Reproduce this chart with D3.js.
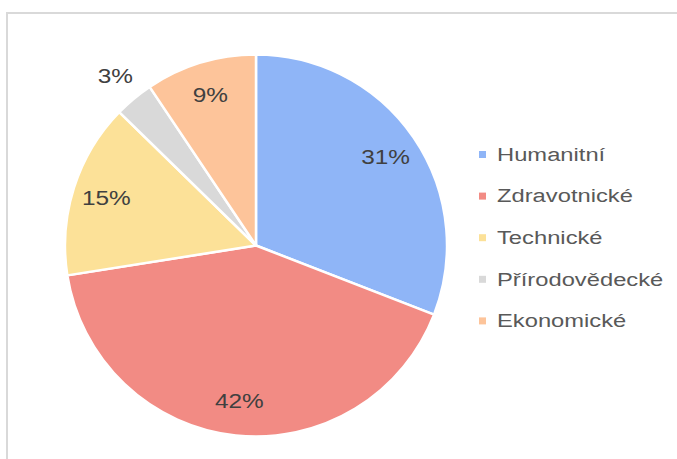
<!DOCTYPE html>
<html>
<head>
<meta charset="utf-8">
<script src="https://cdn.jsdelivr.net/npm/d3@7"></script>
<style>
body { margin: 0; background: #fff; }
svg { display: block; font-family: "Liberation Sans", Arial, sans-serif; }
</style>
</head>
<body>
<svg width="677" height="459"></svg>
<script>
var categories = ["Humanitní", "Zdravotnické", "Technické", "Přírodovědecké", "Ekonomické"];
var values = [30.9, 41.6, 14.8, 3.3, 9.4];
var colors = ["#8fb5f7", "#f28b84", "#fce198", "#d9d9d9", "#fdc49a"];

var width = 677, height = 459;
var cx = 256, cy = 245.5, radius = 191;

var svg = d3.select("svg");

// chart frame (runs off the right and bottom edge)
svg.append("rect")
  .attr("x", 7).attr("y", 13)
  .attr("width", 720).attr("height", 500)
  .style("fill", "none")
  .style("stroke", "#d9d9d9")
  .style("stroke-width", 2);

var data = categories.map(function(c, i){ return {name: c, value: values[i], color: colors[i]}; });
var total = d3.sum(values);

var pie = d3.pie().sort(null).value(function(d){ return d.value; });
var arc = d3.arc().innerRadius(0).outerRadius(radius);
var labelArc = d3.arc().innerRadius(157).outerRadius(157);
var outerLabelArc = d3.arc().innerRadius(220).outerRadius(220);

var pieG = svg.append("g").attr("transform", "translate(" + cx + "," + cy + ")");

pieG.selectAll("path")
  .data(pie(data))
  .enter()
  .append("path")
  .attr("d", arc)
  .style("fill", function(d){ return d.data.color; })
  .style("stroke", "#fff")
  .style("stroke-width", 2.5)
  .style("stroke-linejoin", "round");

pieG.selectAll("text.pct")
  .data(pie(data))
  .enter()
  .append("text")
  .attr("class", "pct")
  .attr("transform", function(d){
    var p = (d.data.value / total < 0.05 ? outerLabelArc : labelArc).centroid(d);
    return "translate(" + p[0] + "," + p[1] + ") scale(1.25,1)";
  })
  .attr("text-anchor", "middle")
  .attr("dy", "0.35em")
  .style("font-size", "19.5px")
  .style("fill", "#404040")
  .text(function(d){ return Math.round(d.data.value / total * 100) + "%"; });

// legend
var legend = svg.append("g").attr("transform", "translate(479,154.5)");
var rowH = 41.6;
var rows = legend.selectAll("g")
  .data(data)
  .enter()
  .append("g")
  .attr("transform", function(d, i){ return "translate(0," + (i * rowH) + ")"; });

rows.append("rect")
  .attr("x", 0).attr("y", -3.5)
  .attr("width", 7).attr("height", 7)
  .style("fill", function(d){ return d.color; });

rows.append("text")
  .attr("transform", "translate(18,0) scale(1.32,1)")
  .attr("dy", "0.35em")
  .style("font-size", "18px")
  .style("fill", "#595959")
  .text(function(d){ return d.name; });
</script>
</body>
</html>
